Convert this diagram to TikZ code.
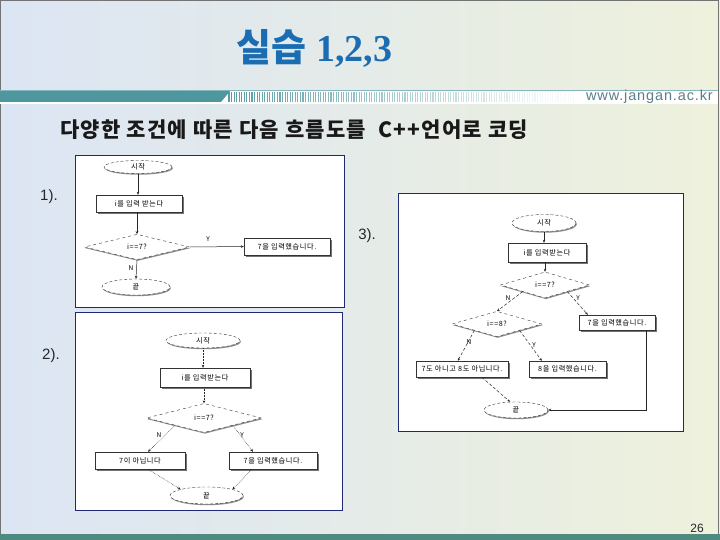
\documentclass[tikz,border=0pt]{standalone}
\usepackage{fontspec}
\setmainfont{Liberation Sans}
\newfontfamily\kr{Noto Sans CJK KR}
\newfontfamily\krs[LetterSpace=6]{Noto Sans CJK KR}
\newfontfamily\krf[LetterSpace=8]{Noto Sans CJK KR}
\newfontfamily\urlfont[LetterSpace=6]{Liberation Sans}
\newfontfamily\tserif{Liberation Serif}
\usetikzlibrary{shapes.geometric,arrows.meta,shadows}
\definecolor{bgL}{HTML}{DCE5F4}
\definecolor{bgR}{HTML}{EEF1DC}
\definecolor{bandteal}{HTML}{4F979E}
\definecolor{botteal}{HTML}{4E8A80}
\definecolor{titleblue}{HTML}{1B6DB3}
\definecolor{panelblue}{HTML}{1E2877}
\definecolor{urlgray}{HTML}{5B7F87}
\tikzset{
  fc/.style={font=\krf\fontsize{7.2}{8}\selectfont, inner sep=0pt, text=black},
  term/.style={fc, ellipse, draw=black!80, densely dashed, line width=0.4pt, fill=white,
    drop shadow={shadow xshift=0.8pt, shadow yshift=-1.2pt, fill=black!45, opacity=1}},
  proc/.style={fc, rectangle, draw=black!80, line width=0.4pt, fill=white,
    drop shadow={shadow xshift=2pt, shadow yshift=-2pt, fill=black!55, opacity=1}},
  dec/.style={fc, diamond, draw=black!80, dashed, line width=0.4pt, fill=white,
    drop shadow={shadow xshift=0.8pt, shadow yshift=-1.2pt, fill=black!45, opacity=1}},
  lbl/.style={fc, font=\kr\fontsize{6.5}{7}\selectfont},
  conn/.style={draw=black!85, line width=0.5pt, -{Stealth[length=3pt,width=2.6pt]}},
  dconn/.style={conn, densely dashed},
  pconn/.style={conn, densely dotted},
  panel/.style={draw=panelblue, line width=0.8pt, fill=white},
  num/.style={font=\fontsize{15}{17}\selectfont, text=black!85}
}
\begin{document}
\begin{tikzpicture}[x=1pt,y=-1pt]
\useasboundingbox (0,0) rectangle (720,540);
% background
\shade[left color=bgL, right color=bgR] (0,0) rectangle (720,540);
\draw[black!55, line width=1pt] (0.5,0.5) rectangle (718,536);
\fill[botteal] (0,534) rectangle (720,540);
% band
\fill[white] (0,90) rectangle (717.5,104);
\draw[bandteal!70, line width=0.6pt] (0,90.8) -- (717.5,90.8);
\fill[bandteal] (0,91.2) -- (230,91.2) -- (221,102) -- (0,102) -- cycle;
\foreach \i in {0,...,135} {
  \pgfmathsetmacro{\op}{max(0.05,0.95-\i/140)}
  \draw[bandteal, line width=1.1pt, opacity=\op] (229+2.55*\i,92) -- (229+2.55*\i,102);
}
\node[anchor=east, text=urlgray, font=\urlfont\fontsize{14.5}{15}\selectfont, inner sep=0pt] (url) at (713,97) {www.jangan.ac.kr};
% title
\node[text=titleblue, inner sep=0pt] (title) at (314.5,48) {{\kr\bfseries\fontsize{38}{42}\selectfont 실습}\hspace{10pt}{\tserif\bfseries\fontsize{38}{42}\selectfont 1,2,3}};
% subtitle
\node[anchor=west, inner sep=0pt, text=black!90, font=\krs\bfseries\fontsize{21}{23}\selectfont] (sub) at (60,130) {다양한 조건에 따른 다음 흐름도를 \ C++언어로 코딩};
% labels
\node[num] (n1) at (49,197) {1).};
\node[num] (n2) at (51,356) {2).};
\node[num] (n3) at (367,236) {3).};
\node[font=\fontsize{12}{14}\selectfont, text=black!85] (pg) at (697,528) {26};

% ---------- panel 1 ----------
\draw[panel] (75,155) rectangle (344,307);
\node[term, minimum width=68, minimum height=13] (s1) at (138,167) {시작};
\node[proc, minimum width=86, minimum height=17] (p1) at (139,203.5) {i를 입력 받는다};
\node[dec, minimum width=105, minimum height=23] (d1) at (137,247) {i==7?};
\node[proc, minimum width=86, minimum height=17] (o1) at (287,246.5) {7을 입력했습니다.};
\node[term, minimum width=68, minimum height=16] (e1) at (136,287) {끝};
\draw[conn] (s1) -- (s1 |- p1.north);
\draw[conn] (p1.south -| d1) -- (d1.north);
\draw[conn] (d1.east) -- (o1.west);
\draw[conn] (d1.south) -- (e1.north);
\node[lbl] (y1) at (208,239) {Y};
\node[lbl] (nn1) at (131,268) {N};

% ---------- panel 2 ----------
\draw[panel] (75,312) rectangle (342,510);
\node[term, minimum width=74, minimum height=15] (s2) at (203,340.5) {시작};
\node[proc, minimum width=90, minimum height=19] (p2) at (205,377.5) {i를 입력받는다};
\node[dec, minimum width=115, minimum height=29] (d2) at (204,418) {i==7?};
\node[proc, minimum width=90, minimum height=17] (o2a) at (140,460.5) {7이 아닙니다};
\node[proc, minimum width=88, minimum height=17] (o2b) at (273,460.5) {7을 입력했습니다.};
\node[term, minimum width=73, minimum height=17] (e2) at (206.5,495.5) {끝};
\draw[pconn] (s2) -- (s2 |- p2.north);
\draw[pconn] (p2.south -| d2) -- (d2.north);
\draw[pconn] (d2.south west) -- ([xshift=8pt]o2a.north);
\draw[pconn] (d2.south east) -- ([xshift=-20pt]o2b.north);
\draw[pconn] ([xshift=8pt]o2a.south) -- (e2.north west);
\draw[pconn] ([xshift=-21pt]o2b.south) -- (e2.north east);
\node[lbl] (nn2) at (159,435) {N};
\node[lbl] (y2) at (242,435) {Y};

% ---------- panel 3 ----------
\draw[panel] (398,193) rectangle (683,431);
\node[term, minimum width=64, minimum height=17] (s3) at (544,223) {시작};
\node[proc, minimum width=78, minimum height=19] (p3) at (547,252.5) {i를 입력받는다};
\node[dec, minimum width=89, minimum height=26] (d3) at (545,285) {i==7?};
\node[dec, minimum width=90, minimum height=24] (d4) at (497,324) {i==8?};
\node[proc, minimum width=76, minimum height=15] (o3a) at (617,322.5) {7을 입력했습니다.};
\node[proc, minimum width=92, minimum height=16] (o3b) at (462,369) {7도 아니고 8도 아닙니다.};
\node[proc, minimum width=77, minimum height=16] (o3c) at (567.5,369) {8을 입력했습니다.};
\node[term, minimum width=64, minimum height=16] (e3) at (516,410) {끝};
\draw[conn] (s3.south) -- (s3.south |- p3.north);
\draw[conn] (p3.south -| d3) -- (d3.north);
\draw[dconn] (d3.south west) -- (d4.north);
\draw[dconn] (d3.south east) -- ([xshift=9pt]o3a.north west);
\draw[dconn] (d4.south west) -- ([xshift=42pt]o3b.north west);
\draw[dconn] (d4.south east) -- ([xshift=13pt]o3c.north west);
\draw[dconn] ([xshift=66pt]o3b.south west) -- ([xshift=-6pt]e3.north);
\draw[conn] ([xshift=-9pt]o3a.south east) |- (e3.east);
\node[lbl] (nn3) at (508,298) {N};
\node[lbl] (y3) at (578,298) {Y};
\node[lbl] (nn4) at (469,342) {N};
\node[lbl] (y4) at (534,345) {Y};
\end{tikzpicture}
\end{document}
